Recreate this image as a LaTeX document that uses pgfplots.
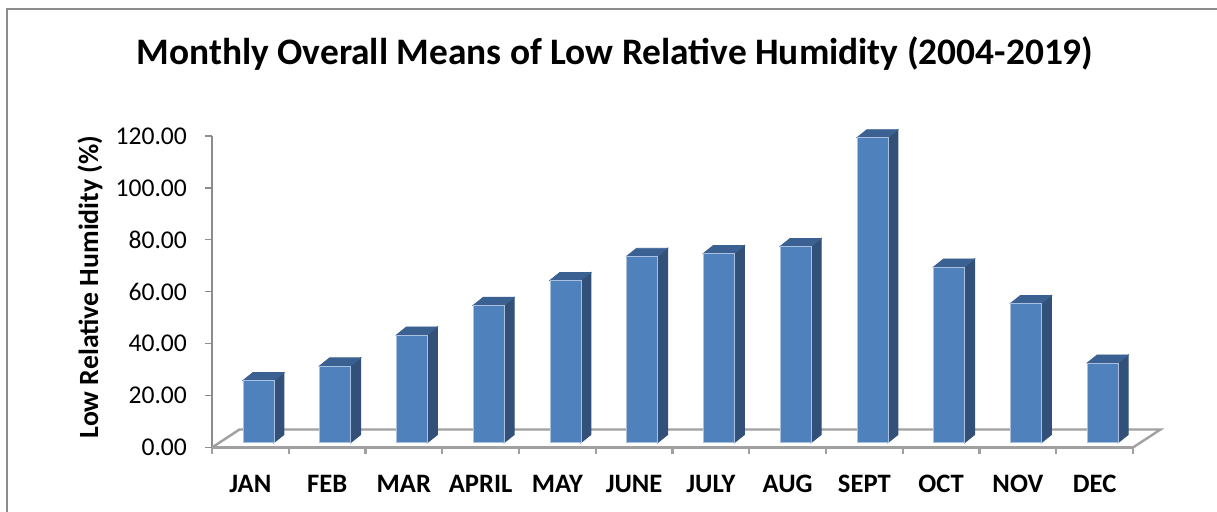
\documentclass[border=0pt]{standalone}
\usepackage{pgfplots}
\pgfplotsset{compat=1.18}
\usepackage{fontspec}
\setmainfont{Carlito}

\definecolor{barfront}{HTML}{4F81BD}
\definecolor{barside}{HTML}{325078}
\definecolor{bartop}{HTML}{3B6192}
\definecolor{baredge}{HTML}{A9C0DF}
\definecolor{floorgray}{HTML}{A0A0A0}
\definecolor{framegray}{HTML}{8C8C8C}

% 3D column drawn at the data point; \val is the raw y value
% (1 px of the reference = 0.5pt, 1 unit of y = 1.29792pt)
\pgfdeclareplotmark{bar3d}{%
  \pgfmathsetmacro\yb{2.4-\val*1.29792}%
  \pgfmathsetmacro\ybb{\yb+4}%
  \fill[barside] (11.75pt,2.4pt) -- (16.75pt,6.4pt) -- (16.75pt,\ybb pt) -- (11.75pt,\yb pt) -- cycle;
  \fill[bartop] (-3.75pt,2.4pt) -- (1.25pt,6.4pt) -- (16.75pt,6.4pt) -- (11.75pt,2.4pt) -- cycle;
  \filldraw[fill=barfront, draw=baredge, line width=0.3pt] (-3.75pt,2.4pt) rectangle (11.75pt,\yb pt);
}

\begin{document}
\begin{tikzpicture}
  \useasboundingbox (0,0) rectangle (608.5pt,256pt);
  \draw[framegray, line width=1pt] (3.5pt,0) -- (3.5pt,251.5pt) -- (608.5pt,251.5pt);

  \begin{axis}[
    at={(106pt,32.25pt)}, anchor=south west,
    scale only axis, width=460.5pt, height=155.75pt,
    xmin=-0.5, xmax=11.5, ymin=0, ymax=120,
    clip=false,
    axis x line*=bottom, axis y line*=left,
    x axis line style={floorgray, line width=1.2pt, -},
    y axis line style={framegray, line width=0.6pt, -},
    xtick={-0.5,0.5,1.5,2.5,3.5,4.5,5.5,6.5,7.5,8.5,9.5,10.5,11.5},
    x tick label as interval,
    xticklabels={JAN,FEB,MAR,APRIL,MAY,JUNE,JULY,AUG,SEPT,OCT,NOV,DEC},
    ytick={0,20,40,60,80,100,120},
    yticklabels={0.00,20.00,40.00,60.00,80.00,100.00,120.00},
    tick align=outside, major tick length=3.5pt,
    x tick style={floorgray, line width=1.2pt},
    y tick style={framegray, line width=0.6pt},
    xticklabel style={font=\fontsize{13.3}{15}\selectfont\bfseries, yshift=-7pt},
    yticklabel style={font=\fontsize{12.8}{15}\selectfont, xshift=-5.5pt},
  ]
    % floor of the 3D plot area
    \draw[floorgray, line width=1.2pt] (rel axis cs:0,0) -- ([xshift=13.75pt,yshift=9pt]rel axis cs:0,0)
      -- ([xshift=13.75pt,yshift=9pt]rel axis cs:1,0) -- (rel axis cs:1,0);

    \addplot[only marks, mark=bar3d, visualization depends on={rawy \as \val}] coordinates {
      (0,23.9) (1,29.6) (2,41.5) (3,52.9) (4,62.5) (5,71.8)
      (6,72.9) (7,75.6) (8,117.5) (9,67.7) (10,53.6) (11,30.7)
    };
  \end{axis}

  \node[anchor=base, font=\fontsize{18.7}{22}\selectfont\bfseries] at (307.5pt,223.5pt)
    {Monthly Overall Means of Low Relative Humidity (2004-2019)};
  \node[anchor=base, rotate=90, font=\fontsize{13.9}{16}\selectfont\bfseries] at (49pt,112.5pt)
    {Low Relative Humidity (\%)};
\end{tikzpicture}
\end{document}
